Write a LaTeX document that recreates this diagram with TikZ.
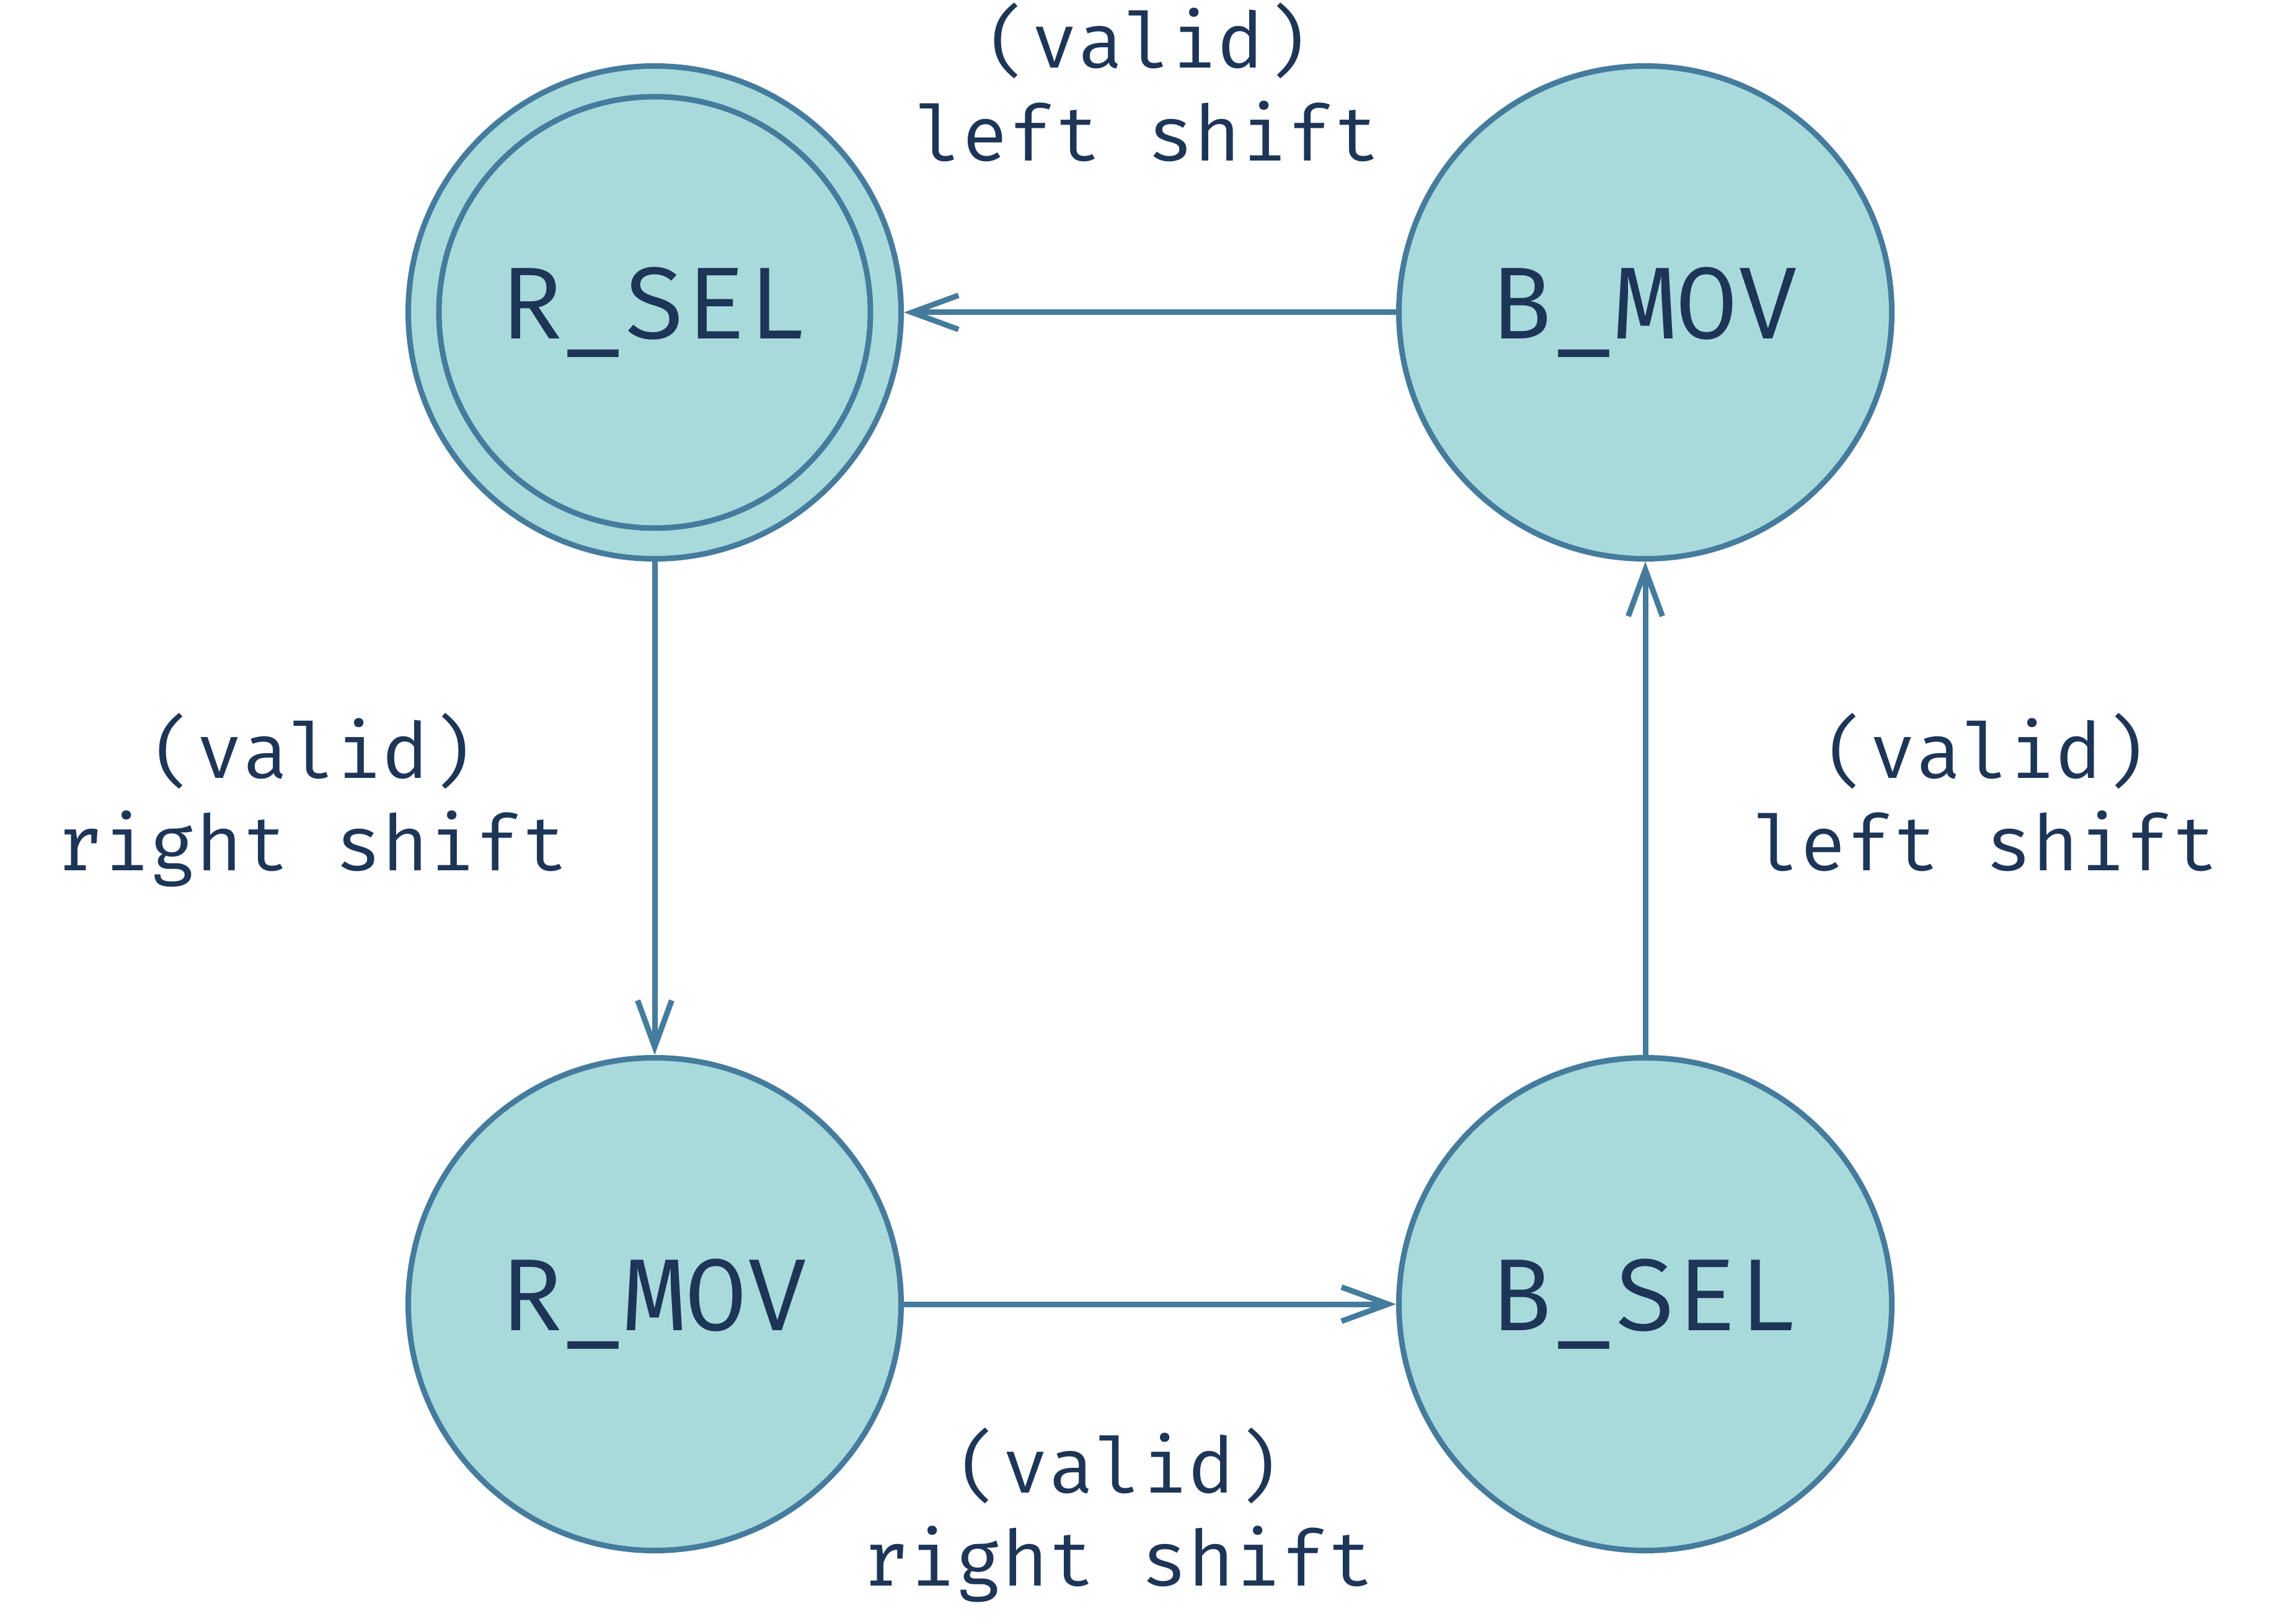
\documentclass[tikz,border=0pt]{standalone}
\usepackage{fontspec}
\usetikzlibrary{arrows.meta}
\newfontfamily\monofont{Fira Mono}
\definecolor{fillc}{HTML}{A8DADC}
\definecolor{linec}{HTML}{457B9D}
\definecolor{textc}{HTML}{1D3557}
\begin{document}
\begin{tikzpicture}[
 state/.style={circle, draw=linec, fill=fillc, line width=1.8pt, minimum size=159pt, inner sep=0pt, text=textc, font=\monofont\fontsize{33}{40}\selectfont},
 trans/.style={draw=linec, line width=1.8pt, -{Straight Barb[length=15pt,width=11pt]}},
 lab/.style={text=textc, font=\monofont\fontsize{25}{30}\selectfont, align=center, inner sep=0pt, anchor=base}
]
\useasboundingbox (0,0) rectangle (732pt,-524pt);
\node[state] (rsel) at (211.2pt,-100.8pt) {R\_SEL};
\draw[linec, line width=1.8pt] (rsel.center) circle (69.6pt);
\node[state] (bmov) at (530.8pt,-100.8pt) {B\_MOV};
\node[state] (rmov) at (211.2pt,-420.8pt) {R\_MOV};
\node[state] (bsel) at (530.8pt,-420.8pt) {B\_SEL};
\draw[trans] (rsel) -- (rmov);
\draw[trans] (rmov) -- (bsel);
\draw[trans] (bsel) -- (bmov);
\draw[trans] (bmov) -- (rsel);
\node[lab] (ltop) at (370.2pt,-52pt) {(valid)\\left shift};
\node[lab] (lleft) at (100.8pt,-281pt) {(valid)\\right shift};
\node[lab] (lright) at (640.6pt,-281pt) {(valid)\\left shift};
\node[lab] (lbot) at (360.8pt,-511.6pt) {(valid)\\right shift};
\end{tikzpicture}
\end{document}
